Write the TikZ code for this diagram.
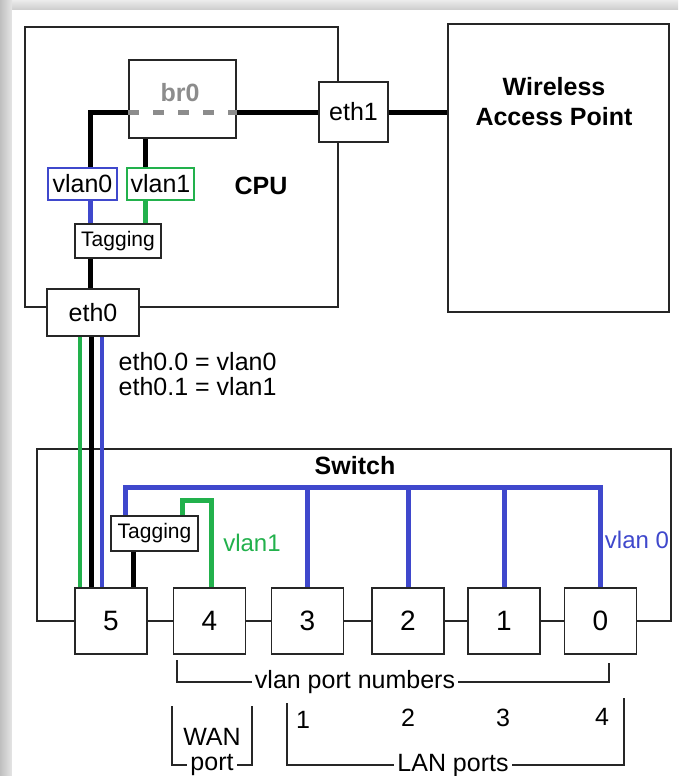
\documentclass[tikz,border=0pt]{standalone}
\usepackage{fontspec}
\setmainfont{Liberation Sans}
\usepackage{xcolor}
\usepackage{tikz}
\definecolor{vlanblue}{RGB}{63,72,204}
\definecolor{vlangreen}{RGB}{34,177,76}
\definecolor{bridgegray}{RGB}{140,140,140}
\tikzset{
    box/.style={draw=black!85, line width=1.5pt, fill=white, inner sep=0pt},
    wire/.style={line width=5pt},
    bluewire/.style={line width=5pt, vlanblue},
    greenwire/.style={line width=5pt, vlangreen},
    trunkwire/.style={line width=4pt},
    bracket/.style={draw=black!85, line width=1.5pt},
    head/.style={font=\fontsize{25}{30}\selectfont\bfseries},
    tagtext/.style={font=\fontsize{21}{22}\selectfont},
    porttext/.style={font=\fontsize{28}{30}\selectfont}
}

\begin{document}
\begin{tikzpicture}[x=1pt, y=-1pt, thick, font=\fontsize{25}{25}\selectfont]
                \useasboundingbox (0,0) rectangle (678,776);
                \shade[top color=gray!15, bottom color=gray!40] (0,0) rectangle (678,10);
                \shade[left color=gray!50, right color=gray!20] (0,0) rectangle (12,776);
                \fill[white] (12,10) rectangle (678,776);

                \node[box, minimum width=313, minimum height=280] (cpu) at (181.5,167) {};
                \node[head] (cpulabel) at (261,186) {CPU};
                \node[box, minimum width=107, minimum height=78] (br0) at (182.5,99) {};
                \node[box, minimum width=69, minimum height=60] (eth1) at (353.5,112) {eth1};
                \node[box, minimum width=221, minimum height=288] (wap) at (558.5,168) {};
                \node[head, align=center] (waplabel) at (554,102) {Wireless\\Access Point};
                \node[box, draw=vlanblue, minimum width=69, minimum height=32] (vlan0) at (82.5,184) {vlan0};
                \node[box, draw=vlangreen, minimum width=67, minimum height=32] (vlan1) at (160.5,184) {vlan1};
                \node[box, tagtext, minimum width=86, minimum height=34] (cputag) at (118,241) {Tagging};
                \node[box, minimum width=92, minimum height=47] (eth0) at (93,312.5) {eth0};
                \node[anchor=west, align=left] (trunknote) at (115,374.5) {eth0.0 = vlan0\\eth0.1 = vlan1};

                \coordinate (lane0) at (90,0);
                \coordinate (lane1) at (145,0);
                \draw[wire] (eth1.west) -- (br0.east |- eth1.west);
                \draw[wire] (eth1.east) -- (wap.west |- eth1.east);
                \draw[wire, bridgegray, dash pattern=on 11pt off 14pt] (br0.west |- eth1.west) -- (br0.east |- eth1.west);
                \node[text=bridgegray, head] (br0label) at (180,93) {br0};
                \draw[wire] (br0.west |- eth1.west) -| (lane0 |- vlan0.north);
                \draw[wire] (lane1 |- br0.south) -- (lane1 |- vlan1.north);
                \draw[bluewire] (lane0 |- vlan0.south) -- (lane0 |- cputag.north);
                \draw[greenwire] (lane1 |- vlan1.south) -- (lane1 |- cputag.north);
                \draw[wire] (lane0 |- cputag.south) -- (lane0 |- eth0.north);

                \node[box, minimum width=634, minimum height=172] (switch) at (354,535) {};
                \node[head] (switchlabel) at (355,466) {Switch};
                \foreach \n/\x in {5/111,4/209.5,3/307.5,2/408,1/504,0/600.5}
                    \node[box, porttext, minimum width=72, minimum height=66] (p\n) at (\x,621) {\n};
                \node[box, tagtext, minimum width=87, minimum height=35] (swtag) at (154.5,533.5) {Tagging};
                \node[text=vlangreen, font=\fontsize{24}{24}\selectfont] (vlan1note) at (252,543) {vlan1};
                \node[text=vlanblue, font=\fontsize{24}{24}\selectfont] (vlan0note) at (637,540) {vlan 0};

                \draw[trunkwire, vlangreen] ([xshift=-13pt]eth0.south) -- ([xshift=-13pt]eth0.south |- p5.north);
                \draw[wire] ([xshift=-2pt]eth0.south) -- ([xshift=-2pt]eth0.south |- p5.north);
                \draw[trunkwire, vlanblue] ([xshift=9pt]eth0.south) -- ([xshift=9pt]eth0.south |- p5.north);

                \coordinate (bluebus) at (0,487);
                \coordinate (greenbus) at (0,500);
                \draw[bluewire] ([xshift=-29.5pt]swtag.north) |- (bluebus -| p0) -- (p0.north);
                \foreach \n in {1,2,3}
                    \draw[bluewire] (bluebus -| p\n) -- (p\n.north);
                \draw[greenwire] ([xshift=27.5pt]swtag.north) |- ([xshift=1.5pt]greenbus -| p4) -- ([xshift=1.5pt]p4.north);
                \draw[wire] ([xshift=-21.5pt]swtag.south) -- ([xshift=-21.5pt]swtag.south |- p5.north);

                \node[inner sep=3pt] (vlannums) at (355,682) {vlan port numbers};
                \coordinate (vlannumsL) at (177,660);
                \coordinate (vlannumsR) at (609,663);
                \draw[bracket] (vlannumsL) |- (vlannums.west);
                \draw[bracket] (vlannumsR) |- (vlannums.east);

                \node (wan) at (212,737) {WAN};
                \node[inner sep=3pt] (wanport) at (212,765) {port};
                \coordinate (wanL) at (172,706);
                \coordinate (wanR) at (252,706);
                \draw[bracket] (wanL) |- (wanport.west);
                \draw[bracket] (wanR) |- (wanport.east);

                \node[inner sep=3pt] (lanports) at (453,765) {LAN ports};
                \coordinate (lanL) at (287,703);
                \coordinate (lanR) at (624,698);
                \draw[bracket] (lanL) |- (lanports.west);
                \draw[bracket] (lanR) |- (lanports.east);
                \foreach \n/\x/\y in {1/303/720,2/408/718,3/503/718,4/602/717}
                    \node (lan\n) at (\x,\y) {\n};
            \end{tikzpicture}
\end{document}
